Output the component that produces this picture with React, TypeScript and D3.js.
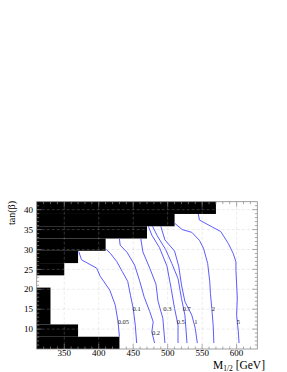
import * as d3 from "d3";

// excluded (black) region, one rectangle per tan(beta) row
const exclLow = [38.92, 35.83, 32.75, 29.67, 26.58, 23.5, 11.17, 8.08, 5];
const exclHigh = [42, 38.92, 35.83, 32.75, 29.67, 26.58, 20.42, 11.17, 8.08];
const exclEdge = [570, 510, 470, 410, 370, 350, 330, 370, 430];

// contour lines, [M_1/2, tan(beta)]
const c005 = [[371, 29.5], [375, 27.4], [397, 25.3], [402, 23.3], [416, 19.8], [424, 16.0], [428, 11.8], [430, 8.1]];
const c01 = [[411, 30.0], [417, 29.0], [426, 27.0], [434, 24.5], [442, 22.0], [446, 18.5], [450, 15.2], [453, 11.0], [455, 6.5]];
const c02 = [[430, 32.75], [431, 31.1], [441, 29.3], [452, 26.1], [459, 22.3], [466, 18.0], [474, 14.4], [479, 11.8], [477, 9.3], [481, 6.5]];
const c03 = [[461, 32.75], [464, 29.4], [474, 25.3], [483, 21.3], [486, 17.0], [493, 12.7], [496, 6.5]];
const c05 = [[472, 35.83], [477, 33.6], [488, 30.5], [499, 25.8], [505, 20.2], [510, 15.2], [515, 11.0], [515, 6.5]];
const c07 = [[478, 35.83], [485, 33.4], [497, 30.0], [506, 26.5], [515, 22.7], [520, 17.7], [525, 13.5], [528, 6.5]];
const c1 = [[490, 35.83], [496, 32.4], [510, 29.6], [516, 25.8], [520, 21.1], [525, 16.9], [535, 13.5], [540, 10.2], [543, 6.5]];
const c2 = [[510, 36.6], [521, 35.0], [535, 34.3], [546, 32.3], [552, 30.3], [558, 26.5], [561, 22.0], [562, 19.0], [564, 15.2], [566, 11.0], [567, 6.5]];
const c5 = [[544.5, 38.92], [546, 37.4], [563, 35.8], [577, 34.5], [588, 31.5], [595, 29.0], [599, 26.9], [599, 24.8], [601, 17.8], [600, 13.5], [602.5, 9.3], [603.5, 6.5]];
const contours = [c005, c01, c02, c03, c05, c07, c1, c2, c5];

// contour labels
const labelText = ["0.05", "0.1", "0.2", "0.3", "0.5", "0.7", "1", "2", "5"];
const labelM = [435.7, 455, 483, 499.6, 519, 527.7, 540.8, 566.3, 602.6];
const labelTb = [11.85, 15.0, 9.1, 15.0, 11.85, 15.0, 11.85, 15.0, 11.85];

const xTicks = [350, 400, 450, 500, 550, 600];
const yTicks = [10, 15, 20, 25, 30, 35, 40];

const font = "Liberation Serif, Times New Roman, serif";

export default function App() {
  const x = d3.scaleLinear().domain([310, 630]).range([36.7, 257.3]);
  const y = d3.scaleLinear().domain([5, 42]).range([349, 201.7]);
  const line = d3
    .line<number[]>()
    .x((d) => x(d[0]))
    .y((d) => y(d[1]));

  const xMinor = d3.range(320, 630, 10);
  const yMinor = d3.range(6, 42, 1);
  const [x0, x1] = x.range();
  const [y0, y1] = y.range();

  return (
    <svg width={287} height={372} style={{ position: "absolute", left: 0, top: 0, background: "#fff" }}>
      {exclEdge.map((m, i) => (
        <rect
          key={i}
          x={x(310)}
          y={y(exclHigh[i])}
          width={x(m) - x(310)}
          height={y(exclLow[i]) - y(exclHigh[i])}
          fill="#000"
        />
      ))}
      {/* grid */}
      <g stroke="#bbb" strokeOpacity={0.35} strokeDasharray="3,2" strokeWidth={0.8}>
        {xTicks.map((t) => (
          <line key={t} x1={x(t)} x2={x(t)} y1={y1} y2={y0} />
        ))}
        {yTicks.map((t) => (
          <line key={t} x1={x0} x2={x1} y1={y(t)} y2={y(t)} />
        ))}
      </g>
      {contours.map((c, i) => (
        <path key={i} d={line(c) ?? ""} fill="none" stroke="#5c5cff" strokeWidth={1} />
      ))}
      {labelText.map((t, i) => (
        <text key={t} x={x(labelM[i])} y={y(labelTb[i])} dy="0.35em" textAnchor="middle" fontSize={6.5} fontFamily={font} fill="#222">
          {t}
        </text>
      ))}
      {/* frame and ticks */}
      <rect x={x0} y={y1} width={x1 - x0} height={y0 - y1} fill="none" stroke="#888" strokeWidth={0.8} />
      <g stroke="#888" strokeWidth={0.7}>
        {xMinor.map((t) => {
          const len = xTicks.includes(t) ? 5 : 2.5;
          return (
            <g key={t}>
              <line x1={x(t)} x2={x(t)} y1={y0} y2={y0 - len} />
              <line x1={x(t)} x2={x(t)} y1={y1} y2={y1 + len} />
            </g>
          );
        })}
        {yMinor.map((t) => {
          const len = yTicks.includes(t) ? 5 : 2.5;
          return (
            <g key={t}>
              <line x1={x0} x2={x0 + len} y1={y(t)} y2={y(t)} />
              <line x1={x1} x2={x1 - len} y1={y(t)} y2={y(t)} />
            </g>
          );
        })}
      </g>
      {xTicks.map((t) => (
        <text key={t} x={x(t)} y={356} textAnchor="middle" fontSize={9} fontFamily={font} fill="#000">
          {t}
        </text>
      ))}
      {yTicks.map((t) => (
        <text key={t} x={33} y={y(t)} dy="0.35em" textAnchor="end" fontSize={9} fontFamily={font} fill="#000">
          {t}
        </text>
      ))}
      <text transform="translate(15,201) rotate(-90)" textAnchor="end" fontSize={10} fontFamily={font} fill="#000">
        tan(β)
      </text>
      <text x={265} y={368.5} textAnchor="end" fontSize={11.5} fontFamily={font} fill="#000">
        M
        <tspan fontSize={7.5} dy={2}>1/2</tspan>
        <tspan dy={-2}> [GeV]</tspan>
      </text>
    </svg>
  );
}
